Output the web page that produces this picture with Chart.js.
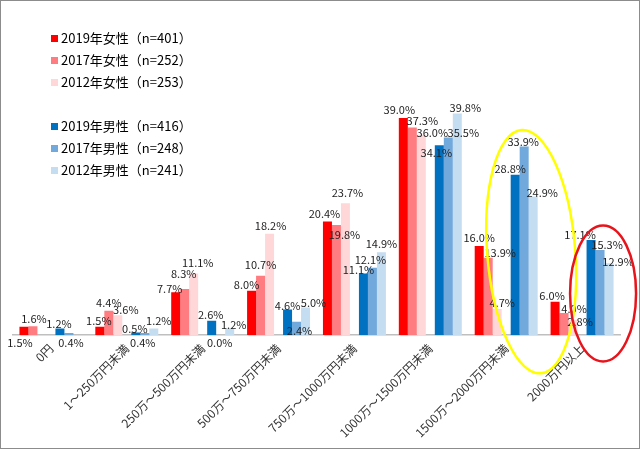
<!DOCTYPE html>
<html lang="ja">
<head>
<meta charset="UTF-8">
<title>世帯年収の分布</title>
<script src="https://cdn.jsdelivr.net/npm/chart.js"></script>
<style>
  body { margin: 0; background: #fff; }
  #wrap { position: relative; width: 638px; height: 447px; border: 1px solid #8c8c8c; }
  #legend { position: absolute; left: 50px; top: 26px; font: 13px "Noto Sans CJK JP", sans-serif; color: #000; }
  #legend div { height: 22px; line-height: 22px; white-space: nowrap; }
  #legend span { display: inline-block; width: 7px; height: 7px; margin-right: 3px; vertical-align: 1px; }
</style>
</head>
<body>
<div id="wrap">
  <canvas id="c" width="638" height="447"></canvas>
  <div id="legend"></div>
</div>
<script>
const categories = ['0円', '1～250万円未満', '250万～500万円未満', '500万～750万円未満',
  '750万～1000万円未満', '1000万～1500万円未満', '1500万～2000万円未満', '2000万円以上'];

const female2019 = [1.5, 1.5, 7.7, 8.0, 20.4, 39.0, 16.0, 6.0];
const female2017 = [1.6, 4.4, 8.3, 10.7, 19.8, 37.3, 13.9, 4.0];
const female2012 = [null, 3.6, 11.1, 18.2, 23.7, 36.0, 4.7, 2.8];
const male2019 = [1.2, 0.5, 2.6, 4.6, 11.1, 34.1, 28.8, 17.1];
const male2017 = [0.4, 0.4, 0.0, 2.4, 12.1, 35.5, 33.9, 15.3];
const male2012 = [null, 1.2, 1.2, 5.0, 14.9, 39.8, 24.9, 12.9];

const seriesLabels = ['2019年女性（n=401）', '2017年女性（n=252）', '2012年女性（n=253）',
  '2019年男性（n=416）', '2017年男性（n=248）', '2012年男性（n=241）'];
const colors = ['#ff0000', '#ff7c80', '#ffd7d9', '#0070c0', '#71a9dc', '#c5ddf1'];

// labels that sit under the baseline: [series, index]
const belowLabels = [[0, 0], [4, 0], [4, 1], [4, 2]];
// hand-moved label offsets from the original, [dx, dy] per series / category
const labelNudge = [
  [[-4, 0], [-1, 2], [-6, 4], [-5, 2], [-3, 0], [-4, 0], [0, 0], [-3, 2]],
  [[1, 0], [0, 0], [-1, -7], [0, -3], [8, 18], [10, 1], [12, 3], [10, 4]],
  [[0, 0], [8, 3], [4, -3], [1, 0], [2, -2], [11, 6], [5, 2], [7, 10]],
  [[-1, 3], [-1, 4], [-1, 2], [0, 4], [-5, 4], [-3, 16], [-5, 2], [-11, 3]],
  [[2, 0], [-2, 0], [-1, 0], [3, 17], [-2, 0], [15, 3], [-1, 3], [7, 3]],
  [[0, 0], [5, 0], [4, 4], [8, 3], [0, 0], [8, 2], [9, 4], [9, 6]]
];

const seriesData = [female2019, female2017, female2012, male2019, male2017, male2012];
const datasets = [];
seriesData.forEach((d, i) => {
  // empty slot between the women's and men's bars
  if (i === 3) datasets.push({ label: '', data: categories.map(() => null), backgroundColor: 'transparent', gap: true });
  datasets.push({ label: seriesLabels[i], data: d, backgroundColor: colors[i] });
});

// HTML legend
const legend = document.getElementById('legend');
seriesLabels.forEach((t, i) => {
  if (i === 3) legend.appendChild(document.createElement('div'));
  const row = document.createElement('div');
  row.innerHTML = '<span style="background:' + colors[i] + '"></span>' + t;
  legend.appendChild(row);
});

const has = (list, d, j) => list.some(p => p[0] === d && p[1] === j);

const valueLabels = {
  id: 'valueLabels',
  afterDatasetsDraw(chart) {
    const ctx = chart.ctx;
    ctx.save();
    ctx.font = '11px "Noto Sans CJK JP", sans-serif';
    ctx.fillStyle = '#222';
    ctx.textAlign = 'center';
    ctx.textBaseline = 'middle';
    let s = -1;
    chart.data.datasets.forEach((ds, di) => {
      if (ds.gap) return;
      s++;
      chart.getDatasetMeta(di).data.forEach((bar, j) => {
        const v = ds.data[j];
        if (v === null) return;
        const [dx, dy] = labelNudge[s][j];
        const txt = v.toFixed(1) + '%';
        if (has(belowLabels, s, j)) {
          ctx.fillText(txt, bar.x + dx, bar.base + 8 + dy);
        } else {
          ctx.fillText(txt, bar.x + dx, bar.y - 8 + dy);
        }
      });
    });
    ctx.restore();
  }
};

// hand-drawn highlight loops around the male bars of the last two categories
const highlights = {
  id: 'highlights',
  afterDraw(chart) {
    const ctx = chart.ctx, x = chart.scales.x, y = chart.scales.y;
    ctx.save();
    ctx.lineWidth = 2.5;
    ctx.strokeStyle = '#ffff00';
    ctx.beginPath();
    ctx.ellipse(x.getPixelForValue(6) + 25, y.getPixelForValue(15), 44, 122, -0.08, 0, Math.PI * 2);
    ctx.stroke();
    ctx.strokeStyle = '#e8141c';
    ctx.beginPath();
    ctx.ellipse(x.getPixelForValue(7) + 21, y.getPixelForValue(7.5), 33, 68, 0, 0, Math.PI * 2);
    ctx.stroke();
    ctx.restore();
  }
};

new Chart(document.getElementById('c'), {
  type: 'bar',
  data: { labels: categories, datasets },
  options: {
    responsive: false,
    animation: false,
    layout: { padding: { left: 12, right: 19, top: 0, bottom: 2 } },
    datasets: { bar: { categoryPercentage: 0.83, barPercentage: 1.0 } },
    plugins: { legend: { display: false }, tooltip: { enabled: false } },
    scales: {
      x: {
        grid: { display: false, drawTicks: false },
        border: { color: '#bfbfbf', width: 1.5 },
        ticks: {
          color: '#333',
          font: { family: '"Noto Sans CJK JP", sans-serif', size: 12 },
          minRotation: 45, maxRotation: 45, padding: 6
        }
      },
      y: { display: false, min: 0, max: 60 }
    }
  },
  plugins: [valueLabels, highlights]
});
</script>
</body>
</html>
